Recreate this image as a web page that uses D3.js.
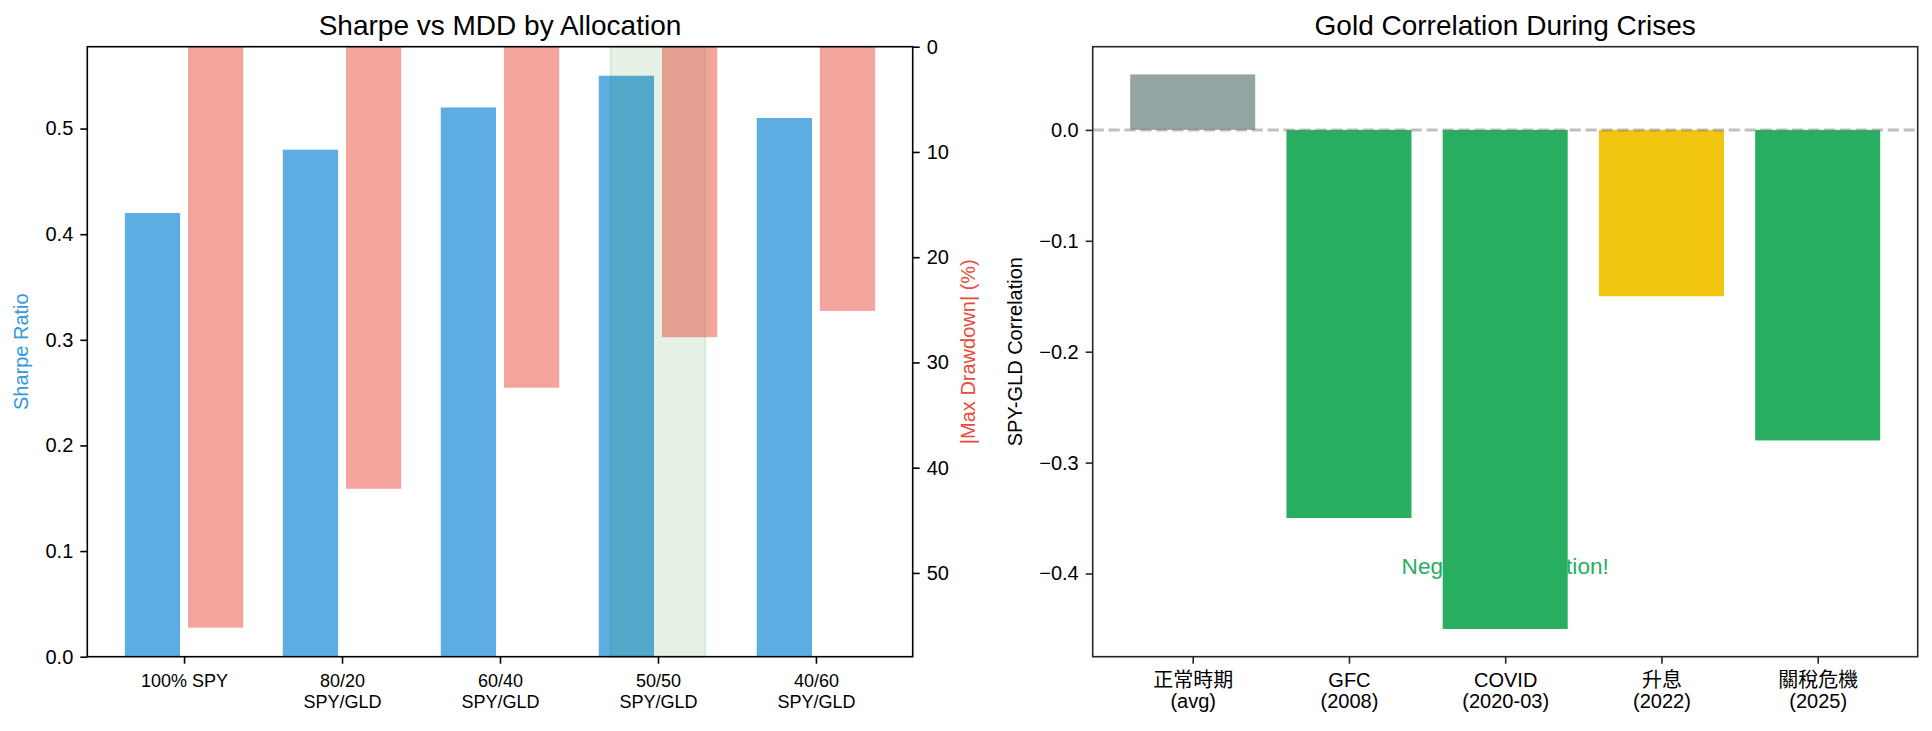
<!DOCTYPE html>
<html><head><meta charset="utf-8">
<script src="https://cdn.jsdelivr.net/npm/d3@7"></script>
<style>body{margin:0;background:#fff}</style></head>
<body><svg id="chart" width="1932" height="731"></svg>
<script>
// ---- data ----
const allocations = ["100% SPY", "80/20\nSPY/GLD", "60/40\nSPY/GLD", "50/50\nSPY/GLD", "40/60\nSPY/GLD"];
const sharpeRatios = [0.42, 0.48, 0.52, 0.55, 0.51];
const maxDrawdowns = [55.2, 42.0, 32.4, 27.6, 25.1];
const highlightIndex = 3;
const crises = ["正常時期\n(avg)", "GFC\n(2008)", "COVID\n(2020-03)", "升息\n(2022)", "關稅危機\n(2025)"];
const correlations = [0.05, -0.35, -0.45, -0.15, -0.28];
const crisisColors = ["#95a5a6", "#27ae60", "#27ae60", "#f1c40f", "#27ae60"];
const sharpeTicks = [0, 0.1, 0.2, 0.3, 0.4, 0.5];
const mddTicks = [0, 10, 20, 30, 40, 50];
const corrTicks = [0, -0.1, -0.2, -0.3, -0.4];

// ---- layout ----
const FONT = "'Liberation Sans', Arial, 'Noto Sans CJK TC', sans-serif";
const svg = d3.select("#chart").style("font-family", FONT);
const L = {x0: 87.3, x1: 912.7, y0: 46.7, y1: 656.7};
const R = {x0: 1092.7, x1: 1917.7, y0: 46.7, y1: 656.7};
const pad = (lo, hi) => { const m = (hi - lo) * 0.05; return [lo - m, hi + m]; };

svg.append("rect").attr("width", 1932).attr("height", 731).attr("fill", "#fff");

// ================= LEFT PANEL =================
const bw = 0.35, off = 0.2;
const xL = d3.scaleLinear().domain(pad(-off - bw / 2, allocations.length - 1 + off + bw / 2)).range([L.x0, L.x1]);
const yS = d3.scaleLinear().domain([0, d3.max(sharpeRatios) * 1.05]).range([L.y1, L.y0]);
const yM = d3.scaleLinear().domain([0, d3.max(maxDrawdowns) * 1.05]).range([L.y0, L.y1]);

const gL = svg.append("g");
gL.selectAll(".sharpe").data(sharpeRatios).join("rect")
  .attr("x", (d, i) => xL(i - off - bw / 2)).attr("width", (d, i) => xL(i - off + bw / 2) - xL(i - off - bw / 2))
  .attr("y", d => yS(d)).attr("height", d => yS(0) - yS(d))
  .attr("fill", "#3498db").attr("fill-opacity", 0.8);

gL.append("rect")
  .attr("x", xL(highlightIndex - 0.3)).attr("width", xL(highlightIndex + 0.3) - xL(highlightIndex - 0.3))
  .attr("y", L.y0).attr("height", L.y1 - L.y0)
  .attr("fill", "rgba(0,128,0,0.1)").attr("stroke", "rgba(0,128,0,0.1)").attr("stroke-width", 2);

gL.selectAll(".mdd").data(maxDrawdowns).join("rect")
  .attr("x", (d, i) => xL(i + off - bw / 2)).attr("width", (d, i) => xL(i + off + bw / 2) - xL(i + off - bw / 2))
  .attr("y", yM(0)).attr("height", d => yM(d) - yM(0))
  .attr("fill", "#e74c3c").attr("fill-opacity", 0.5);

function styleAxis(g, color) {
  g.select(".domain").remove();
  g.selectAll(".tick line").attr("stroke", color).attr("stroke-width", 1.6);
  g.selectAll(".tick text").attr("fill", "#000").style("font-size", "20px").style("font-family", FONT);
}
function multiline(g, labels) {
  g.selectAll(".tick text").each(function(i) {
    const t = d3.select(this);
    t.text(null).attr("dy", null).attr("y", null);
    labels[i].split("\n").forEach((ln, k) => t.append("tspan").attr("x", 0).attr("y", 30 + k * 21).text(ln));
  });
}

const axSL = gL.append("g").attr("transform", `translate(${L.x0},0)`)
  .call(d3.axisLeft(yS).tickValues(sharpeTicks).tickFormat(d3.format(".1f")).tickSize(7).tickPadding(7).tickSizeOuter(0));
styleAxis(axSL, "#000");
const axMR = gL.append("g").attr("transform", `translate(${L.x1},0)`)
  .call(d3.axisRight(yM).tickValues(mddTicks).tickFormat(d3.format("d")).tickSize(7).tickPadding(7).tickSizeOuter(0));
styleAxis(axMR, "#000");
const axXL = gL.append("g").attr("transform", `translate(0,${L.y1})`)
  .call(d3.axisBottom(xL).tickValues(d3.range(allocations.length)).tickFormat((d, i) => allocations[i]).tickSize(7).tickSizeOuter(0));
styleAxis(axXL, "#000");
axXL.selectAll(".tick text").style("font-size", "18px");
multiline(axXL, allocations);

gL.append("rect").attr("x", L.x0).attr("y", L.y0).attr("width", L.x1 - L.x0).attr("height", L.y1 - L.y0)
  .attr("fill", "none").attr("stroke", "#000").attr("stroke-width", 1.6);

gL.append("text").attr("x", (L.x0 + L.x1) / 2).attr("y", 34.7).attr("text-anchor", "middle")
  .style("font-size", "28px").attr("fill", "#000").text("Sharpe vs MDD by Allocation");
gL.append("text").attr("transform", `translate(28,${(L.y0 + L.y1) / 2}) rotate(-90)`).attr("text-anchor", "middle")
  .style("font-size", "20px").attr("fill", "#3498db").text("Sharpe Ratio");
gL.append("text").attr("transform", `translate(975,${(L.y0 + L.y1) / 2}) rotate(-90)`).attr("text-anchor", "middle")
  .style("font-size", "20px").attr("fill", "#e74c3c").text("|Max Drawdown| (%)");

// ================= RIGHT PANEL =================
const cw = 0.8;
const xR = d3.scaleLinear().domain(pad(-cw / 2, crises.length - 1 + cw / 2)).range([R.x0, R.x1]);
const yR = d3.scaleLinear().domain(pad(d3.min(correlations), d3.max(correlations))).range([R.y1, R.y0]);
const gR = svg.append("g");

gR.append("text").attr("x", xR(2)).attr("y", yR(-0.4)).attr("text-anchor", "middle")
  .style("font-size", "22.6px").attr("fill", "#27ae60").text("Negative correlation!");

gR.selectAll(".corr").data(correlations).join("rect")
  .attr("x", (d, i) => xR(i - cw / 2)).attr("width", (d, i) => xR(i + cw / 2) - xR(i - cw / 2))
  .attr("y", d => yR(Math.max(0, d))).attr("height", d => Math.abs(yR(d) - yR(0)))
  .attr("fill", (d, i) => crisisColors[i]);

gR.append("line").attr("x1", R.x0).attr("x2", R.x1).attr("y1", yR(0)).attr("y2", yR(0))
  .attr("stroke", "rgba(128,128,128,0.5)").attr("stroke-width", 3).attr("stroke-dasharray", "11.1,4.8");

const minus = d => d === 0 ? "0.0" : "\u2212" + Math.abs(d).toFixed(1);
const axYR = gR.append("g").attr("transform", `translate(${R.x0},0)`)
  .call(d3.axisLeft(yR).tickValues(corrTicks).tickFormat(minus).tickSize(7).tickPadding(7).tickSizeOuter(0));
styleAxis(axYR, "#262626");
const axXR = gR.append("g").attr("transform", `translate(0,${R.y1})`)
  .call(d3.axisBottom(xR).tickValues(d3.range(crises.length)).tickFormat((d, i) => crises[i]).tickSize(7).tickSizeOuter(0));
styleAxis(axXR, "#262626");
multiline(axXR, crises);

gR.append("rect").attr("x", R.x0).attr("y", R.y0).attr("width", R.x1 - R.x0).attr("height", R.y1 - R.y0)
  .attr("fill", "none").attr("stroke", "#262626").attr("stroke-width", 1.6);

gR.append("text").attr("x", (R.x0 + R.x1) / 2).attr("y", 34.7).attr("text-anchor", "middle")
  .style("font-size", "28px").attr("fill", "#000").text("Gold Correlation During Crises");
gR.append("text").attr("transform", `translate(1022,${(R.y0 + R.y1) / 2}) rotate(-90)`).attr("text-anchor", "middle")
  .style("font-size", "20px").attr("fill", "#000").text("SPY-GLD Correlation");
</script></body></html>
